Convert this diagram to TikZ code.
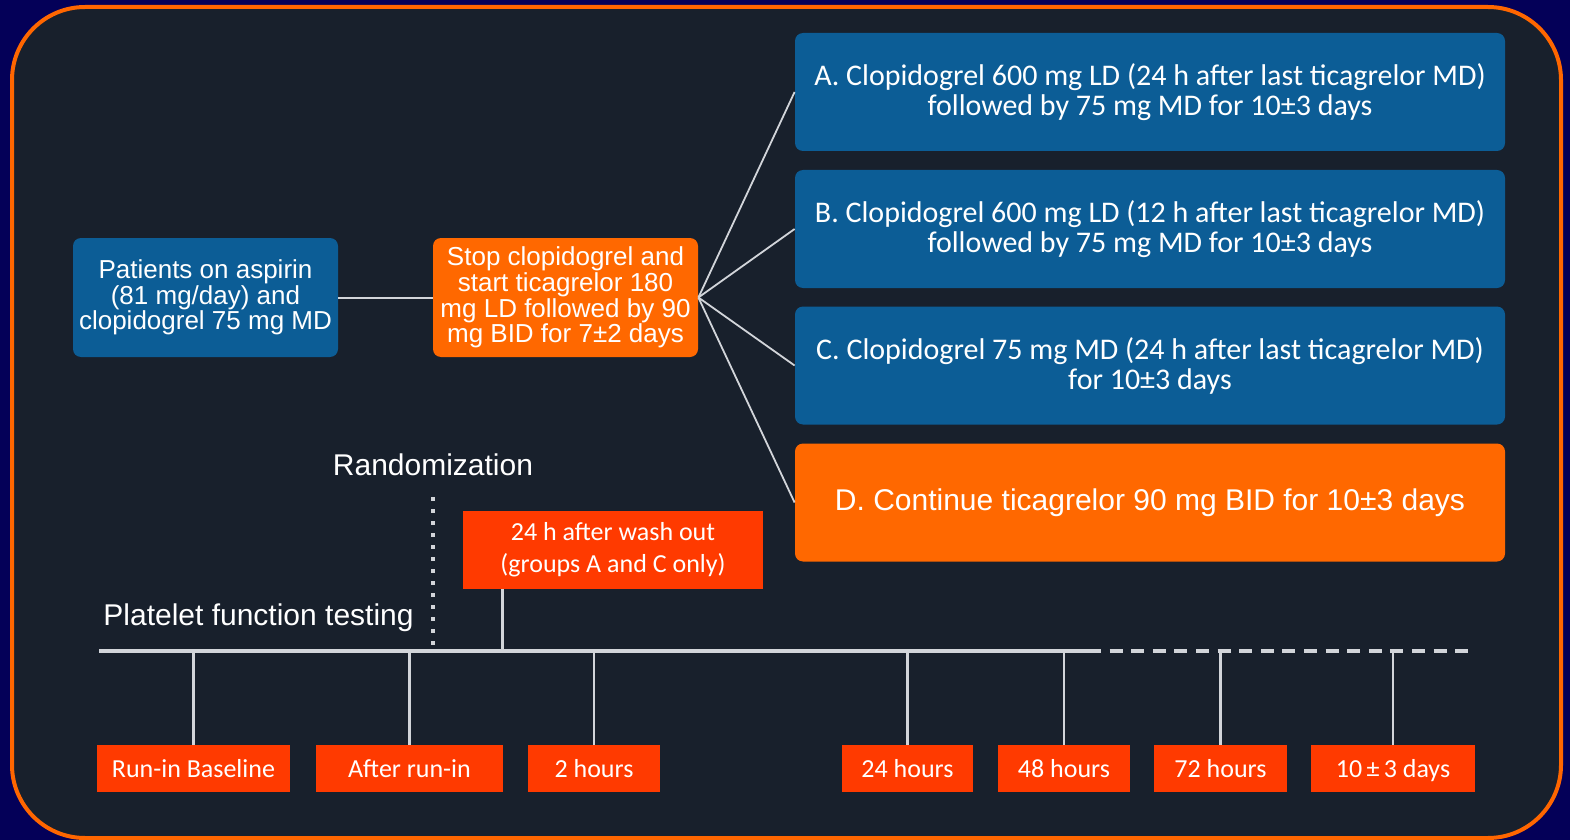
\documentclass[tikz,border=0pt]{standalone}
\usepackage{fontspec}
\setmainfont{Liberation Sans}
\newfontfamily\calibri{Carlito}

\definecolor{pagebg}{RGB}{4,0,88}
\definecolor{panel}{RGB}{24,32,44}
\definecolor{frameorange}{RGB}{255,102,0}
\definecolor{boxblue}{RGB}{12,93,150}
\definecolor{boxorange}{RGB}{255,104,0}
\definecolor{markred}{RGB}{255,58,0}
\definecolor{linegray}{RGB}{210,213,218}

\begin{document}
\begin{tikzpicture}[x=0.5pt,y=-0.5pt,
    box/.style={rounded corners=4pt, text=white, align=center, inner sep=0pt},
    bluebox/.style={box, fill=boxblue},
    orangebox/.style={box, fill=boxorange},
    redbox/.style={fill=markred, text=white, align=center, inner sep=0pt,
      font=\calibri\fontsize{13}{16}\selectfont},
    smallbox/.style={minimum width=132.5pt, minimum height=59.5pt,
      font=\fontsize{13}{12.8}\selectfont},
    armbox/.style={minimum width=355pt, minimum height=59pt},
    fan/.style={linegray, line width=0.9pt},
    tick/.style={linegray, line width=1.2pt},
    timeline/.style={linegray, line width=2pt}]

  % background and frame
  \fill[pagebg] (0,0) rectangle (1570,840);
  \draw[frameorange, line width=2pt, fill=panel, rounded corners=36.5pt]
    (12,7) rectangle (1561,838);

  % run-in and switch boxes
  \node[bluebox, smallbox] (pat) at (205.5,297.5)
    {Patients on aspirin\\(81 mg/day) and\\clopidogrel 75 mg MD};
  \node[orangebox, smallbox] (stop) at (565.5,297.5)
    {Stop clopidogrel and\\start ticagrelor 180\\mg LD followed by 90\\mg BID for 7±2 days};
  \draw[linegray, line width=1pt] (pat) -- (stop);

  % randomized arms
  \begin{scope}[every node/.append style={font=\calibri\fontsize{15}{15}\selectfont}]
    \node[bluebox, armbox] (armA) at (1150,92)
      {A. Clopidogrel 600 mg LD (24 h after last ticagrelor MD)\\followed by 75 mg MD for 10±3 days};
    \node[bluebox, armbox] (armB) at (1150,229)
      {B. Clopidogrel 600 mg LD (12 h after last ticagrelor MD)\\followed by 75 mg MD for 10±3 days};
    \node[bluebox, armbox] (armC) at (1150,365.5)
      {C. Clopidogrel 75 mg MD (24 h after last ticagrelor MD)\\for 10±3 days};
  \end{scope}
  \node[orangebox, armbox, font=\fontsize{15}{18}\selectfont] (armD) at (1150,502.5)
    {D. Continue ticagrelor 90 mg BID for 10±3 days};

  \foreach \arm in {armA,armB,armC,armD}
    \draw[fan] (stop.east) -- (\arm.west);

  % time line
  \coordinate (tl0) at (99,651);
  \coordinate (tl1) at (1088,651);
  \coordinate (tl2) at (1472,651);
  \draw[timeline] (tl0) -- (tl1);
  \draw[timeline, dash pattern=on 6.5pt off 4.3pt] (tl1) -- (tl2);

  \node[anchor=base west, inner sep=0pt, text=white, font=\fontsize{15}{18}\selectfont] (pft)
    at (103,625) {Platelet function testing};
  \node[text=white, font=\fontsize{15}{18}\selectfont] (rand) at (433,465) {Randomization};
  \draw[linegray, line width=1.8pt, dash pattern=on 1.8pt off 4.2pt]
    ([yshift=-7pt]rand.south) -- ([yshift=3pt]rand.south |- tl0);

  \node[redbox, minimum width=150pt, minimum height=39pt] (wash) at (613,550)
    {24 h after wash out\\(groups A and C only)};
  \draw[tick] ([xshift=20pt]wash.south west) -- ([xshift=20pt]wash.south west |- tl0);

  % sampling points
  \foreach \name/\x/\w/\txt in {t0/193.5/96.5/Run-in Baseline, t1/409.5/93.5/After run-in,
      t2/594/66/2 hours, t24/907.5/65.5/24 hours, t48/1064/66/48 hours,
      t72/1220.5/66.5/72 hours, t10/1393/82/10\,±\,3 days} {
    \node[redbox, minimum width=\w pt, minimum height=23.5pt, text height=11pt, text depth=2pt]
      (\name) at (\x,768.5) {\txt};
    \draw[tick] (\name.north) -- (\name.north |- tl0);
  }
\end{tikzpicture}
\end{document}
